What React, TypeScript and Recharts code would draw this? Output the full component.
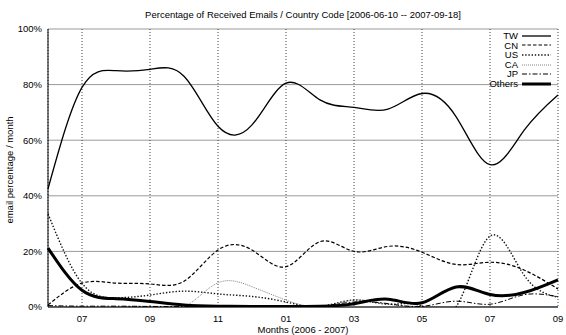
import { LineChart, Line, XAxis, YAxis, CartesianGrid, Legend } from 'recharts';

// month index: 0 = 2006-06 ... 15 = 2007-09
const MONTHS = [0, 1, 2, 3, 4, 5, 6, 7, 8, 9, 10, 11, 12, 13, 14, 15];
const MAJOR_TICKS = [1, 3, 5, 7, 9, 11, 13, 15];
const MAJOR_LABELS: Record<number, string> = { 1: '07', 3: '09', 5: '11', 7: '01', 9: '03', 11: '05', 13: '07', 15: '09' };
const Y_TICKS = [0, 20, 40, 60, 80, 100];

const TW = [42.5, 79, 85, 85.5, 83, 65, 65.5, 80.5, 74.5, 71.8, 71.2, 76.8, 68.5, 51.2, 63.5, 76.3];
const CN = [0.7, 8.6, 8.6, 8.3, 9.3, 20.5, 20.5, 14.5, 23.5, 20, 21.8, 19.7, 15.3, 16.1, 13.3, 6.5];
const US = [33.5, 8.5, 3.3, 4.3, 5.7, 4.7, 3.8, 1.8, 0.2, 2.5, 1, 0.3, 0, 25.5, 11.5, 3.5];
const CA = [0, 0, 0, 0, 0, 8.7, 7.3, 2.5, 0, 2.5, 1, 0.2, 0, 0, 0, 0];
const JP = [0.5, 0.3, 0.3, 0.2, 0.2, 0.2, 0.2, 0.2, 0.3, 1.8, 1.2, 0.2, 2.1, 1, 4.4, 3.7];
const OTHERS = [21.2, 6, 3, 2, 0.7, 0.3, 0.2, 0.2, 0.3, 1.2, 2.8, 1.5, 7.2, 4.5, 5.2, 9.8];

const rows = MONTHS.map((m, i) => ({
  m,
  TW: TW[i],
  CN: CN[i],
  US: US[i],
  CA: CA[i],
  JP: JP[i],
  Others: OTHERS[i],
}));

// minor ticks roughly every 10 days
const MINOR_TICKS = Array.from({ length: 46 }, (_, i) => i / 3);

const FONT = '"Liberation Sans", Arial, Helvetica, sans-serif';
const FS = 9.5;

const SERIES = [
  { key: 'TW', color: '#000', width: 1.3, dash: undefined as string | undefined },
  { key: 'CN', color: '#000', width: 1.2, dash: '3.5 2' },
  { key: 'US', color: '#111', width: 1.4, dash: '1.4 1.8' },
  { key: 'CA', color: '#777', width: 0.9, dash: '1 1' },
  { key: 'JP', color: '#000', width: 1, dash: '5 2 1.5 2' },
  { key: 'Others', color: '#000', width: 3, dash: undefined },
];

const LegendBox = () => (
  <div style={{ fontFamily: FONT, fontSize: FS, color: '#000' }}>
    {SERIES.map((s) => (
      <div
        key={s.key}
        style={{ display: 'flex', alignItems: 'center', justifyContent: 'flex-end', height: 9.6, lineHeight: '9.6px' }}
      >
        <span>{s.key}</span>
        <svg width={33} height={6} style={{ display: 'block' }}>
          <line x1={4} y1={3} x2={33} y2={3} stroke={s.color} strokeWidth={s.width} strokeDasharray={s.dash} />
        </svg>
      </div>
    ))}
  </div>
);

const tickStyle = { fontSize: FS, fill: '#000', fontFamily: FONT };

export default function App() {
  return (
    <div style={{ position: 'absolute', left: 0, top: 0, width: 566, height: 335, background: '#fff', fontFamily: FONT }}>
      <div style={{ position: 'absolute', left: 48, width: 510, top: 9, textAlign: 'center', fontSize: FS, lineHeight: '12px' }}>
        Percentage of Received Emails / Country Code [2006-06-10 -- 2007-09-18]
      </div>
      <div
        style={{
          position: 'absolute',
          left: 10,
          top: 170,
          transform: 'translate(-50%, -50%) rotate(-90deg)',
          whiteSpace: 'nowrap',
          fontSize: FS,
          lineHeight: '12px',
        }}
      >
        email percentage / month
      </div>
      <div style={{ position: 'absolute', left: 48, width: 510, top: 324, textAlign: 'center', fontSize: FS, lineHeight: '12px' }}>
        Months (2006 - 2007)
      </div>
      <LineChart width={566} height={335} data={rows} margin={{ top: 29, right: 8, bottom: 0, left: 8 }}>
        <CartesianGrid xAxisId="b" yAxisId="l" vertical={false} stroke="#9a9a9a" strokeWidth={1} />
        <CartesianGrid xAxisId="b" yAxisId="l" horizontal={false} stroke="#444" strokeDasharray="1 2" />
        <XAxis
          xAxisId="b"
          dataKey="m"
          type="number"
          domain={[0, 15]}
          ticks={MAJOR_TICKS}
          tickFormatter={(v: number) => MAJOR_LABELS[v] ?? ''}
          height={28}
          tickLine={false}
          tickSize={0}
          tickMargin={8}
          axisLine={{ stroke: '#000', strokeWidth: 1 }}
          tick={tickStyle}
        />
        <XAxis
          xAxisId="bm"
          dataKey="m"
          type="number"
          domain={[0, 15]}
          ticks={MINOR_TICKS}
          interval={0}
          mirror
          height={0}
          tickSize={3}
          tickFormatter={() => ''}
          axisLine={false}
          tickLine={{ stroke: '#000' }}
        />
        <XAxis
          xAxisId="t"
          orientation="top"
          dataKey="m"
          type="number"
          domain={[0, 15]}
          ticks={MINOR_TICKS}
          interval={0}
          mirror
          height={0}
          tickSize={3}
          tickFormatter={() => ''}
          axisLine={{ stroke: '#000', strokeWidth: 1 }}
          tickLine={{ stroke: '#000' }}
        />
        <YAxis
          yAxisId="l"
          type="number"
          domain={[0, 100]}
          ticks={Y_TICKS}
          allowDataOverflow
          width={40}
          tickLine={false}
          tickSize={0}
          tickMargin={6}
          tickFormatter={(v: number) => `${v}%`}
          axisLine={{ stroke: '#000', strokeWidth: 1 }}
          tick={tickStyle}
        />
        <YAxis
          yAxisId="lm"
          type="number"
          domain={[0, 100]}
          ticks={Y_TICKS}
          mirror
          width={0}
          tickSize={4}
          tickFormatter={() => ''}
          axisLine={false}
          tickLine={{ stroke: '#000' }}
        />
        <YAxis
          yAxisId="r"
          orientation="right"
          type="number"
          domain={[0, 100]}
          ticks={Y_TICKS}
          mirror
          width={0}
          tickSize={4}
          tickFormatter={() => ''}
          axisLine={{ stroke: '#000', strokeWidth: 1 }}
          tickLine={{ stroke: '#000' }}
        />
        {SERIES.map((s) => (
          <Line
            key={s.key}
            xAxisId="b"
            yAxisId="l"
            type="natural"
            dataKey={s.key}
            stroke={s.color}
            strokeWidth={s.width}
            strokeDasharray={s.dash}
            dot={false}
            activeDot={false}
            isAnimationActive={false}
          />
        ))}
        <Legend
          layout="vertical"
          align="center"
          verticalAlign="middle"
          content={<LegendBox />}
          wrapperStyle={{ left: 440, top: 31, width: 111, height: 'auto' }}
        />
      </LineChart>
    </div>
  );
}
